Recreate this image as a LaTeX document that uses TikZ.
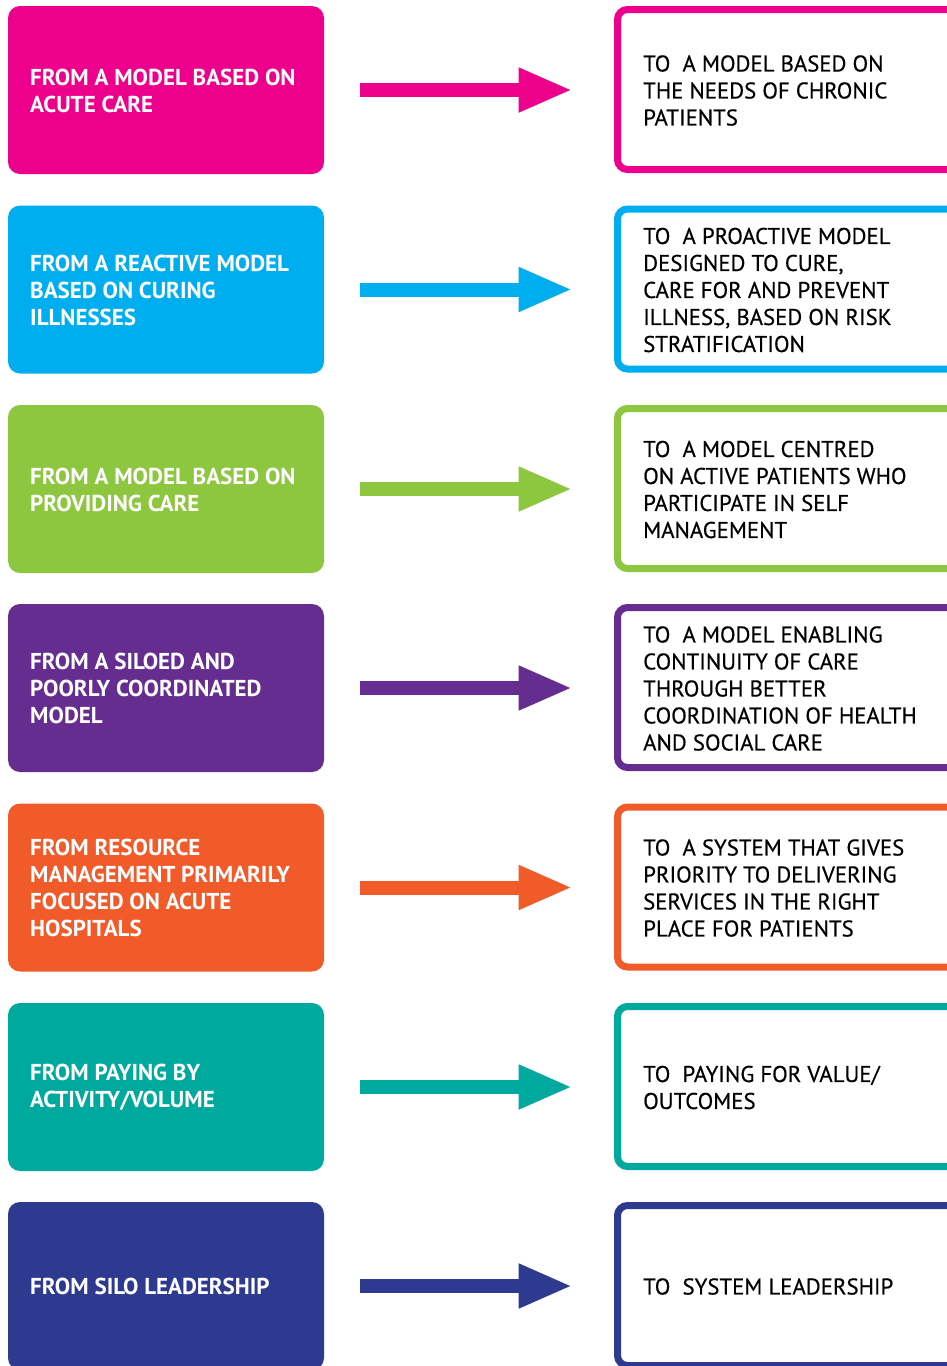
\documentclass[tikz,border=0pt]{standalone}
\usepackage{fontspec}
\setmainfont{PT Sans}
\newfontfamily\medfont[FakeBold=0.4]{PT Sans}
\usetikzlibrary{arrows.meta}
\definecolor{cA}{HTML}{EC008C}
\definecolor{cB}{HTML}{00AEEF}
\definecolor{cC}{HTML}{8DC63F}
\definecolor{cD}{HTML}{662D91}
\definecolor{cE}{HTML}{F15A29}
\definecolor{cF}{HTML}{00A99D}
\definecolor{cG}{HTML}{2E3A8F}
\tikzset{
  frombox/.style={rectangle, rounded corners=12pt, minimum width=316pt, minimum height=168pt, inner sep=0pt, outer sep=0pt},
  tobox/.style={rectangle, draw, line width=7pt, rounded corners=10pt, minimum width=344.5pt, minimum height=160pt, inner sep=0pt, outer sep=0pt, fill=white},
  fromtext/.style={anchor=west, align=left, text=white, inner sep=0pt, font=\fontsize{23}{27}\selectfont\bfseries},
  totext/.style={anchor=west, align=left, text=black, inner sep=0pt, font=\fontsize{22.8}{27}\medfont},
  bigarrow/.style={line width=14pt, -{Triangle[length=54pt, width=41pt]}, shorten <=36pt, shorten >=45pt}
}
\newcommand{\myrow}[5]{%
  % #1 index, #2 top, #3 colour, #4 from text, #5 to text
  \node[frombox, fill=#3] (L#1) at (166, -#2-84) {};
  \node[tobox, draw=#3] (R#1) at (789.75, -#2-83.5) {};
  \node[fromtext] (LT#1) at (30, -#2-84.5) {#4};
  \node[totext] (RT#1) at (643, -#2-84.5) {#5};
  \draw[bigarrow, #3] (L#1.east) -- (L#1.east -| R#1.west);
}
\begin{document}
\begin{tikzpicture}[x=1pt, y=-1pt]
\useasboundingbox (0,0) rectangle (947,1366);
\clip (0,0) rectangle (947,1366);
\fill[white] (0,0) rectangle (947,1366);
\begin{scope}[y=1pt]
\myrow{1}{6}{cA}{FROM A MODEL BASED ON\\ACUTE CARE}{TO\ \ A MODEL BASED ON\\THE NEEDS OF CHRONIC\\PATIENTS}
\myrow{2}{205.5}{cB}{FROM A REACTIVE MODEL\\BASED ON CURING\\ILLNESSES}{TO\ \ A PROACTIVE MODEL\\DESIGNED TO CURE,\\CARE FOR AND PREVENT\\ILLNESS, BASED ON RISK\\STRATIFICATION}
\myrow{3}{405}{cC}{FROM A MODEL BASED ON\\PROVIDING CARE}{TO\ \ A MODEL CENTRED\\ON ACTIVE PATIENTS WHO\\PARTICIPATE IN SELF\\MANAGEMENT}
\myrow{4}{604}{cD}{FROM A SILOED AND\\POORLY COORDINATED\\MODEL}{TO\ \ A MODEL ENABLING\\CONTINUITY OF CARE\\THROUGH BETTER\\COORDINATION OF HEALTH\\AND SOCIAL CARE}
\myrow{5}{803.5}{cE}{FROM RESOURCE\\MANAGEMENT PRIMARILY\\FOCUSED ON ACUTE\\HOSPITALS}{TO\ \ A SYSTEM THAT GIVES\\PRIORITY TO DELIVERING\\SERVICES IN THE RIGHT\\PLACE FOR PATIENTS}
\myrow{6}{1003}{cF}{FROM PAYING BY\\ACTIVITY/VOLUME}{TO\ \ PAYING FOR VALUE/\\OUTCOMES}
\myrow{7}{1202}{cG}{FROM SILO LEADERSHIP}{TO\ \ SYSTEM LEADERSHIP}
\end{scope}
\end{tikzpicture}
\end{document}
